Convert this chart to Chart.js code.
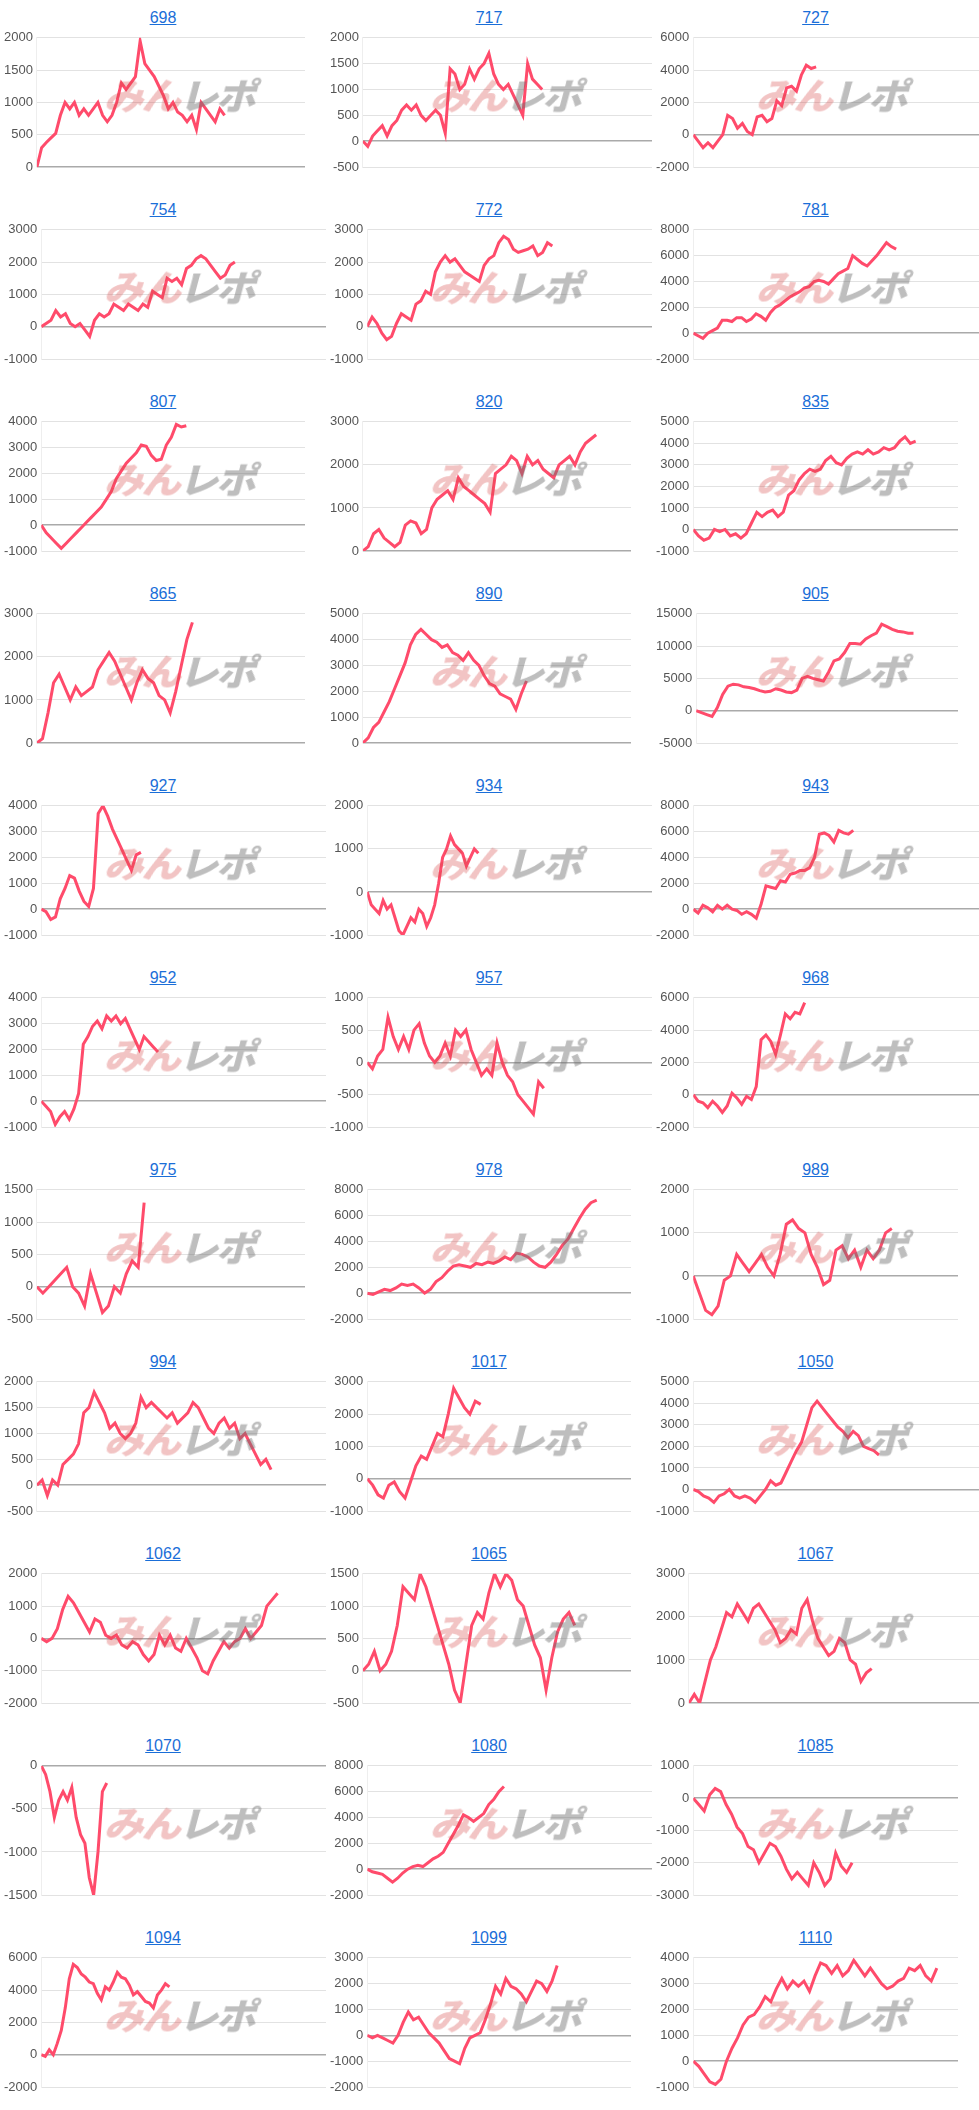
<!DOCTYPE html>
<html><head><meta charset="utf-8">
<script src="https://cdn.jsdelivr.net/npm/chart.js@4"></script>
<style>
body{margin:0;background:#fff;font-family:"Liberation Sans",Arial,sans-serif;}
#grid{display:grid;grid-template-columns:326px 326px 327px;width:979px;}
.cell{position:relative;height:192px;}
.t{position:absolute;left:0;right:0;top:4px;height:28px;line-height:28px;text-align:center;font-size:16px;}
.t a{color:#1a6ed8;text-decoration:underline;}
.wm{position:absolute;left:108px;top:74px;font-family:"Noto Sans CJK JP";font-weight:900;font-size:36px;letter-spacing:-2px;transform:skewX(-15deg) scaleX(1.1);transform-origin:left;pointer-events:none;line-height:40px;}
.wm .a{color:rgba(215,70,70,0.32);} .wm .b{color:rgba(110,110,110,0.45);}
canvas{display:block;position:absolute;left:0;top:26px;}
</style></head><body><div id="grid"></div>
<script>
const names=["698","717","727","754","772","781","807","820","835","865","890","905","927","934","943","952","957","968","975","978","989","994","1017","1050","1062","1065","1067","1070","1080","1085","1094","1099","1110"];
const s698=[0,300,380,450,520,800,1000,900,1000,800,900,800,900,1000,800,700,800,1000,1300,1200,1300,1400,1950,1600,1500,1400,1250,1100,900,1000,850,800,700,800,580,1000,900,800,700,900,800];
const s717=[0,-100,100,200,300,100,300,400,600,700,600,700,500,400,500,600,500,150,1400,1300,1000,1100,1400,1200,1400,1500,1700,1300,1100,1000,1100,900,700,500,1500,1200,1100,1000];
const s727=[0,-400,-800,-500,-800,-400,0,1200,1000,400,700,200,0,1100,1200,800,1000,2100,1800,2900,3000,2700,3700,4300,4100,4200];
const s754=[0,100,200,500,300,400,100,0,100,-100,-300,200,400,300,400,700,600,500,700,600,500,700,600,1100,1000,900,1500,1400,1500,1300,1800,1900,2100,2200,2100,1900,1700,1500,1600,1900,2000];
const s772=[0,300,100,-200,-400,-300,100,400,300,200,700,800,1100,1000,1700,2000,2200,2000,2100,1900,1700,1600,1500,1400,1900,2100,2200,2600,2800,2700,2400,2300,2350,2400,2500,2200,2300,2600,2500];
const s781=[0,-200,-400,0,200,400,1000,1000,900,1200,1200,900,1100,1500,1300,1000,1600,2000,2200,2500,2800,3000,3200,3500,3600,4000,4100,4000,3800,4200,4600,4800,5000,6000,5700,5400,5200,5600,6000,6500,7000,6700,6500];
const s807=[0,-300,-500,-700,-900,-700,-500,-300,-100,100,300,500,700,1000,1300,1800,2100,2400,2600,2800,3100,3050,2700,2500,2550,3100,3400,3900,3800,3850];
const s820=[0,100,400,500,300,200,100,200,600,700,650,400,500,1000,1200,1300,1400,1200,1700,1500,1400,1300,1200,1100,900,1800,1900,2000,2200,2100,1800,2200,2000,2100,1900,1800,1700,2000,2100,2200,2000,2300,2500,2600,2700];
const s835=[0,-300,-500,-400,0,-100,0,-300,-200,-400,-200,300,800,600,800,900,600,800,1600,1800,2300,2600,2800,2700,2800,3200,3400,3100,3000,3300,3500,3600,3500,3700,3500,3600,3800,3700,3800,4100,4300,4000,4100];
const s865=[0,100,700,1400,1600,1300,1000,1300,1100,1200,1300,1700,1900,2100,1900,1600,1300,1000,1400,1700,1500,1400,1100,1000,700,1200,1800,2400,2800];
const s890=[0,200,600,800,1200,1600,2100,2600,3100,3800,4200,4400,4200,4000,3900,3700,3800,3500,3400,3200,3500,3200,3000,2600,2300,2200,1900,1800,1700,1300,1900,2400];
const s905=[0,-300,-600,-900,500,2500,3800,4100,4000,3700,3600,3400,3100,2900,3000,3400,3200,2900,2800,3200,5000,5300,5000,4800,4600,6000,7700,8000,9000,10400,10400,10300,11100,11600,12000,13400,13000,12600,12300,12200,12000,12000];
const s927=[0,-100,-400,-300,400,800,1300,1200,700,300,100,800,3700,4000,3600,3100,2700,2300,1900,1500,2100,2200];
const s934=[0,-300,-400,-500,-200,-400,-300,-600,-900,-1000,-800,-600,-700,-400,-500,-800,-600,-300,200,800,1000,1300,1100,1000,900,600,800,1000,900];
const s943=[0,-300,300,100,-200,300,0,300,0,-100,-400,-200,-400,-700,400,1800,1700,1600,2200,2100,2700,2800,3000,3000,3200,4000,5800,5900,5700,5200,6100,5900,5800,6100];
const s952=[0,-200,-400,-900,-600,-400,-700,-300,300,2200,2500,2900,3100,2800,3300,3100,3300,3000,3200,2800,2400,2000,2500,2300,2100,1900];
const s957=[0,-100,100,200,700,400,200,400,200,500,600,300,100,0,100,300,100,500,400,500,200,0,-200,-100,-200,300,0,-200,-300,-500,-600,-700,-800,-300,-400];
const s968=[0,-400,-500,-800,-400,-700,-1100,-700,100,-200,-600,-100,-300,500,3400,3700,3300,2500,3700,5000,4700,5100,5000,5700];
const s975=[0,-100,0,100,200,300,0,-100,-300,200,-100,-400,-300,0,-100,200,400,300,1300];
const s978=[0,-100,100,300,200,400,700,600,700,400,0,300,900,1200,1700,2100,2200,2100,2000,2300,2200,2400,2300,2500,2800,2600,3100,3000,2800,2400,2100,2000,2400,3000,3700,4200,5000,5800,6500,7000,7200];
const s989=[0,-400,-800,-900,-700,-100,0,500,300,100,300,500,200,0,500,1200,1300,1100,1000,500,200,-200,-100,600,700,400,600,200,600,400,600,1000,1100];
const s994=[0,100,-200,100,0,400,500,600,800,1400,1500,1800,1600,1400,1100,1200,1000,900,1000,1200,1700,1500,1600,1500,1400,1300,1400,1200,1300,1400,1600,1500,1300,1100,1000,1200,1300,1100,1200,900,1000,800,600,400,500,300];
const s1017=[0,-200,-500,-600,-200,-100,-400,-600,-100,400,700,600,1000,1400,1300,2000,2800,2500,2200,2000,2400,2300];
const s1050=[0,-100,-300,-400,-600,-300,-200,0,-300,-400,-300,-400,-600,-300,0,400,200,300,800,1300,1800,2200,3000,3800,4100,3800,3500,3200,2900,2700,2400,2700,2500,2000,1900,1800,1600];
const s1062=[0,-100,0,300,900,1300,1100,800,500,200,600,500,100,0,100,-200,-300,-100,-200,-500,-700,-500,100,-200,100,-300,-400,0,-300,-600,-1000,-1100,-700,-400,-100,-300,-100,0,300,0,200,400,1000,1200,1400];
const s1065=[0,100,300,0,100,300,700,1300,1200,1100,1500,1300,1000,700,400,100,-300,-500,100,700,900,800,1200,1500,1300,1500,1400,1100,1000,700,400,200,-300,200,600,800,900,700];
const s1067=[0,200,0,500,1000,1300,1700,2100,2000,2300,2100,1900,2200,2300,2100,1900,1700,1400,1500,1700,1600,2200,2400,1900,1500,1300,1100,1200,1500,1400,1000,900,500,700,800];
const s1070=[0,-100,-300,-600,-400,-300,-400,-250,-600,-800,-900,-1300,-1500,-1000,-300,-200];
const s1080=[0,-200,-300,-400,-700,-1000,-700,-300,0,200,300,200,500,800,1000,1300,2000,2700,3400,4200,4000,3700,4000,4300,5000,5400,6000,6400];
const s1085=[0,-200,-400,100,300,200,-200,-500,-900,-1100,-1500,-1600,-2000,-1700,-1400,-1500,-1800,-2200,-2500,-2300,-2500,-2700,-2000,-2300,-2700,-2500,-1700,-2100,-2300,-2000];
const s1094=[0,-100,300,0,700,1500,2900,4700,5600,5400,5000,4800,4500,4400,3800,3400,4200,4000,4500,5100,4800,4700,4300,3700,3900,3600,3300,3200,2900,3700,4000,4400,4200];
const s1099=[0,-100,0,-100,-200,-300,0,500,900,600,700,400,100,-100,-300,-600,-900,-1000,-1100,-500,-100,0,100,600,1200,1900,1600,2200,1900,1800,1600,1300,1700,2100,2000,1700,2100,2700];
const s1110=[0,-200,-500,-800,-900,-700,0,500,900,1400,1700,1800,2100,2500,2300,2800,3200,2800,3100,2900,3100,2700,3300,3800,3700,3400,3700,3300,3500,3900,3600,3300,3600,3300,3000,2800,2900,3100,3200,3600,3500,3700,3300,3100,3600];
const series=[s698,s717,s727,s754,s772,s781,s807,s820,s835,s865,s890,s905,s927,s934,s943,s952,s957,s968,s975,s978,s989,s994,s1017,s1050,s1062,s1065,s1067,s1070,s1080,s1085,s1094,s1099,s1110];
const yMin=[0,-500,-2000,-1000,-1000,-2000,-1000,0,-1000,0,0,-5000,-1000,-1000,-2000,-1000,-1000,-2000,-500,-2000,-1000,-500,-1000,-1000,-2000,-500,0,-1500,-2000,-3000,-2000,-2000,-1000];
const yMax=[2000,2000,6000,3000,3000,8000,4000,3000,5000,3000,5000,15000,4000,2000,8000,4000,1000,6000,1500,8000,2000,2000,3000,5000,2000,1500,3000,0,8000,1000,6000,3000,4000];
const yStep=[500,500,2000,1000,1000,2000,1000,1000,1000,1000,1000,5000,1000,1000,2000,1000,500,2000,500,2000,1000,500,1000,1000,1000,500,1000,500,2000,1000,2000,1000,1000];
// fraction of the x axis reached by the last point of each series
const xEnd=[0.70,0.62,0.43,0.68,0.65,0.71,0.55,0.87,0.84,0.58,0.61,0.83,0.35,0.39,0.56,0.41,0.62,0.39,0.40,0.87,0.75,0.81,0.43,0.65,0.83,0.79,0.63,0.23,0.48,0.60,0.45,0.72,0.92];
const rightPad=[21,0,0,0,0,0,21,21,21,21,21,21,0,0,0,0,0,0,21,21,21,0,21,0,0,21,0,0,0,21,0,21,21];

const grid=document.getElementById('grid');
names.forEach((nm,i)=>{
  const cell=document.createElement('div');cell.className='cell';
  cell.innerHTML='<div class="t"><a href="#">'+nm+'</a></div>';
  const cv=document.createElement('canvas');cv.width=(i%3==2)?327:326;cv.height=166;
  cell.appendChild(cv);
  const wm=document.createElement('div');wm.className='wm';wm.innerHTML='<span class="a">みん</span><span class="b">レポ</span>';
  cell.appendChild(wm);
  grid.appendChild(cell);
  const d=series[i];
  new Chart(cv,{type:'line',
    data:{datasets:[{data:d.map((v,k)=>({x:k,y:v})),borderColor:'#ff4b6b',borderWidth:3,pointRadius:0,tension:0,fill:false}]},
    options:{responsive:false,animation:false,devicePixelRatio:1,
      layout:{padding:{top:2,bottom:25,right:rightPad[i],left:0}},
      plugins:{legend:{display:false},tooltip:{enabled:false}},
      scales:{
        x:{type:'linear',min:0,max:(d.length-1)/xEnd[i],display:false},
        y:{min:yMin[i],max:yMax[i],ticks:{stepSize:yStep[i],color:'#555',font:{size:13,family:'Liberation Sans'},padding:4,callback:v=>String(v)},
           grid:{color:c=>c.tick&&c.tick.value===0?'#aaa':'#e2e2e2',lineWidth:c=>c.tick&&c.tick.value===0?1.5:1,drawTicks:false},
           border:{display:true,color:'#eee'}}
      }}});
});
</script></body></html>
